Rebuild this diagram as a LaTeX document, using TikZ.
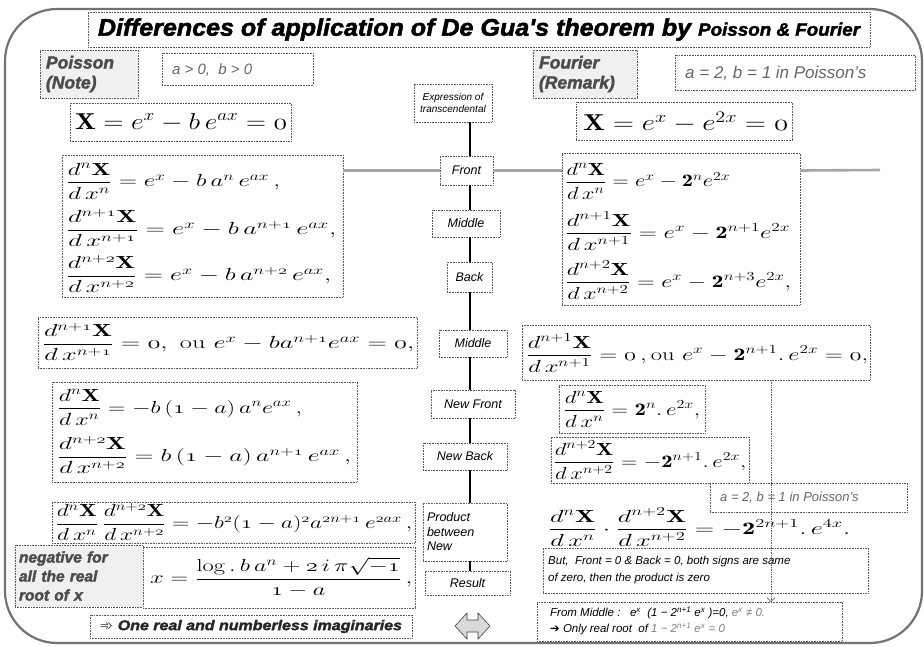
\RequirePackage{fix-cm}
\documentclass[tikz,border=0pt]{standalone}
\usepackage{amsmath}
\usepackage{graphicx}
\usepackage{fontspec}
\newfontfamily\ars{Liberation Sans}
\newfontfamily\heavy{Liberation Sans}[FakeBold=2]
\newfontfamily\dingf{DejaVu Sans}
\usetikzlibrary{arrows.meta}
\newcommand\os[1]{\mathnormal{#1}}
\newcommand\dd[2]{\dfrac{d^{#1}\mathbf{X}}{d\,x^{#2}}}
\newcommand\fit[2]{\resizebox{#1pt}{\height}{#2}}
\newcommand\mf{\fontsize{17.5}{21}\selectfont}
\newcommand\mg{\fontsize{23}{27}\selectfont}
\newcommand\cb[7][]{\node[box,#1,minimum width={#5pt-#3pt},minimum height={#6pt-#4pt}] (#2) at ({(#3+#5)/2},{(#4+#6)/2}) {#7};}
\newcommand\tx[5][]{\node[anchor=west,inner sep=0pt,#1] (#2) at (#3,#4) {#5};}
\begin{document}
\begin{tikzpicture}[x=1pt,y=-1pt,
  box/.style={draw=black!65, densely dotted, line width=0.6pt, inner sep=0pt, outer sep=0pt, fill=white, align=center},
  shade/.style={fill=gray!12},
  cfont/.style={font=\ars\itshape\fontsize{12.5}{14.5}\selectfont},
  lbl/.style={font=\heavy\bfseries\itshape\fontsize{17.5}{20}\selectfont, text=black!70},
  gl/.style={font=\ars\itshape\fontsize{15}{18}\selectfont, text=black!60},
  spine/.style={line width=1.3pt, black},
  hline/.style={line width=2.6pt, gray!70},
  frame/.style={line width=2.2pt, black!55},
  vdot/.style={densely dotted, line width=0.7pt, black!60, -{Straight Barb[length=4pt,width=8pt]}},
  darrow/.style={draw=black!75, fill=gray!30, line width=0.6pt}
]
\useasboundingbox (0,0) rectangle (924,646);
\draw[frame, rounded corners=52pt] (5,9) rectangle (922,643);

% title
\cb{title}{88}{12}{870}{47}{\fit{762}{\heavy\bfseries\itshape\fontsize{24}{28}\selectfont Differences of application of De Gua's theorem by {\fontsize{18}{20}\selectfont Poisson \& Fourier}}}

% left column
\cb[shade,lbl,text width=86pt,align=left]{pn}{40}{50}{138}{98}{Poisson\\(Note)}
\cb{ab}{162}{53}{313}{85}{}
\tx[gl]{ab-t}{172}{70}{a > 0,\ \ b > 0}
\cb{l0box}{70}{103}{291}{141}{}
\tx{l0}{75}{122}{\fit{212}{\mg$\mathbf{X}=e^{x}-b\,e^{ax}=\os0$}}
\cb{l1box}{62}{155}{343}{297}{}
\tx{l1}{66}{181}{\fit{214}{\mf$\dd{n}{n}=e^{x}-b\,a^{n}\,e^{ax}\,,$}}
\tx{l2}{66}{228}{\fit{270}{\mf$\dd{n+\os1}{n+\os1}=e^{x}-b\,a^{n+\os1}\,e^{ax},$}}
\tx{l3}{66}{274}{\fit{265}{\mf$\dd{n+\os2}{n+\os2}=e^{x}-b\,a^{n+\os2}\,e^{ax},$}}
\cb{l4box}{38}{317}{417}{368}{}
\tx{l4}{42}{342}{\fit{372}{\mf$\dd{n+\os1}{n+\os1}=\os0,\ \mathrm{ou}\ e^{x}-ba^{n+\os1}e^{ax}=\os0,$}}
\cb{l5box}{52}{382}{357}{482}{}
\tx{l5}{57}{407}{\fit{245}{\mf$\dd{n}{n}=-b\,(\os1-a)\,a^{n}e^{ax}\,,$}}
\tx{l6}{57}{455}{\fit{294}{\mf$\dd{n+\os2}{n+\os2}=b\,(\os1-a)\,a^{n+\os1}\,e^{ax}\,,$}}
\cb{l7box}{52}{502}{415}{543}{}
\tx{l7}{55}{522}{\fit{357}{\mf$\dd{n}{n}\,\dd{n+\os2}{n+\os2}=-b^{\os2}(\os1-a)^{\os2}a^{\os2n+\os1}\,e^{\os2ax}\,,$}}
\cb[shade,lbl,text width=120pt,align=left,font=\heavy\bfseries\itshape\fontsize{15.5}{19}\selectfont]{neg}{15}{545}{143}{607}{negative for\\all the real\\root of x}
\cb{l8box}{143}{547}{415}{608}{}
\tx{l8}{150}{577}{\fit{262}{\mf$x=\dfrac{\log.\,b\,a^{n}+\os2\,i\,\pi\sqrt{-\os1}}{\os1-a}\,,$}}
\cb{one}{90}{615}{412}{638}{\fit{302}{\heavy\bfseries\itshape\fontsize{14}{16}\selectfont\color{black!85}{\dingf\mdseries\upshape ➾} One real and numberless imaginaries}}

% centre column
\cb[cfont,font=\ars\itshape\fontsize{10}{12}\selectfont]{expr}{414}{84}{492}{122}{Expression of\\transcendental}
\cb[cfont]{front}{440}{156}{493}{185}{Front}
\cb[cfont]{mid}{432}{210}{500}{237}{Middle}
\cb[cfont]{back}{447}{262}{492}{292}{Back}
\cb[cfont]{mid2}{439}{330}{507}{357}{Middle}
\cb[cfont]{nfront}{431}{390}{515}{418}{New Front}
\cb[cfont]{nback}{423}{443}{507}{470}{New Back}
\cb[cfont,text width=76pt,align=left]{prod}{423}{503}{507}{561}{Product\\between\\New}
\cb[cfont]{result}{425}{571}{510}{595}{Result}
\draw[darrow] (455,626) -- (467,613) -- (467,620) -- (478,620) -- (478,613) -- (490,626) -- (478,639) -- (478,632) -- (467,632) -- (467,639) -- cycle;

% right column
\cb[shade,lbl,text width=92pt,align=left]{fr}{533}{50}{637}{98}{Fourier\\(Remark)}
\cb{ab2}{675}{55}{915}{90}{}
\tx[gl,font=\ars\itshape\fontsize{17}{20}\selectfont]{ab2-t}{685}{73}{a = 2, b = 1 in Poisson’s}
\cb{r0box}{576}{102}{792}{140}{}
\tx{r0}{583}{122}{\fit{205}{\mg$\mathbf{X}=e^{x}-e^{2x}=\os0$}}
\cb{r1box}{562}{153}{800}{305}{}
\tx{r1}{565}{181}{\fit{165}{\mf$\dd{n}{n}=e^{x}-\mathbf{2}^{n}e^{2x}$}}
\tx{r2}{565}{231}{\fit{225}{\mf$\dd{n+1}{n+1}=e^{x}-\mathbf{2}^{n+1}e^{2x}$}}
\tx{r3}{565}{280}{\fit{226}{\mf$\dd{n+2}{n+2}=e^{x}-\mathbf{2}^{n+3}e^{2x},$}}
\cb{r4box}{522}{325}{870}{380}{}
\tx{r4}{526}{353}{\fit{342}{\mf$\dd{n+1}{n+1}=\os0\,,\mathrm{ou}\ e^{x}-\mathbf{2}^{n+1}.\,e^{2x}=\os0,$}}
\cb{r5box}{559}{385}{705}{433}{}
\tx{r5}{563}{409}{\fit{137}{\mf$\dd{n}{n}=\mathbf{2}^{n}.\,e^{2x},$}}
\cb{r6box}{551}{437}{749}{483}{}
\tx{r6}{553}{460}{\fit{193}{\mf$\dd{n+2}{n+2}=-\mathbf{2}^{n+1}.\,e^{2x},$}}
\cb{ab3}{710}{483}{907}{512}{}
\tx[gl,font=\ars\itshape\fontsize{13}{16}\selectfont]{ab3-t}{720}{498}{a = 2, b = 1 in Poisson’s}
\tx{r7}{548}{527}{\fit{302}{\mf$\dd{n}{n}\cdot\dd{n+2}{n+2}=-\mathbf{2}^{2n+1}.\,e^{4x}.$}}
\cb{but}{543}{548}{868}{593}{}
\tx[font=\ars\itshape\fontsize{11.5}{17}\selectfont,align=left]{but-t}{548}{570}{But,\ \ Front = 0 \& Back = 0, both signs are same\\of zero, then the product is zero}
\cb{from}{537}{602}{842}{641}{}
\tx[font=\ars\itshape\fontsize{11.5}{16}\selectfont,align=left]{from-t}{550}{621}{From Middle :\ \ \ e\textsuperscript{x}\ \ (1 − 2\textsuperscript{n+1} e\textsuperscript{x} )=0,\ \textcolor{black!50}{e\textsuperscript{x} ≠ 0.}\\{\dingf\upshape ➔} Only real root\ \ of \textcolor{black!50}{1 − 2\textsuperscript{n+1} e\textsuperscript{x} = 0}}

% connectors
\coordinate (sp) at (470,0);
\foreach \a/\b in {expr/front, front/mid, mid/back, back/mid2, mid2/nfront, nfront/nback, nback/prod, prod/result}
  \draw[spine] (\a.south -| sp) -- (\b.north -| sp);
\coordinate (hlend) at (880,170);
\draw[hline] (l1box.east |- front.west) -- (front.west);
\draw[hline] (front.east) -- (r1box.west |- front.east);
\draw[hline] (r1box.east |- front.east) -- (hlend);
\coordinate (vx) at (771,0);
\draw[vdot] (r4box.south -| vx) -- (from.north -| vx);
\end{tikzpicture}
\end{document}
